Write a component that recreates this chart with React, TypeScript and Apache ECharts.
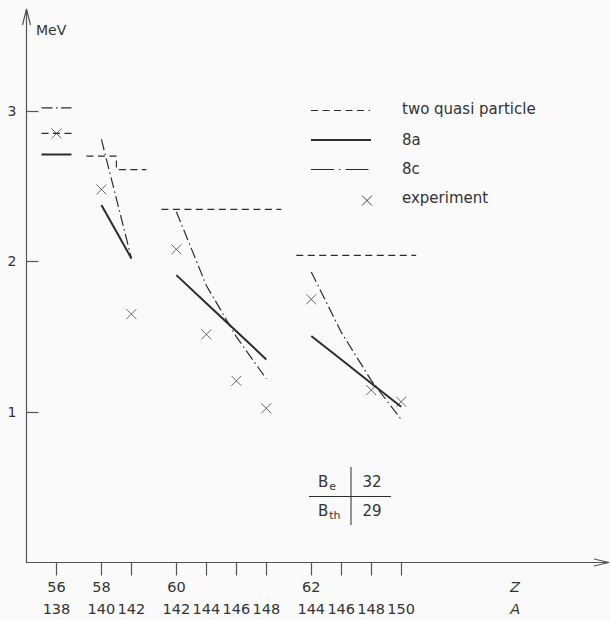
import React, { useEffect, useRef } from "react";
import * as echarts from "echarts";

// ---- data ----
const Z = [56, 58, 58, 60, 60, 60, 60, 62, 62, 62, 62];
const A = [138, 140, 142, 142, 144, 146, 148, 144, 146, 148, 150];
const twoQuasiParticle = [2.85, 2.7, 2.61, 2.345, 2.345, 2.345, 2.345, 2.04, 2.04, 2.04, 2.04];
const calc8a = [2.71, 2.374, 2.02, 1.909, 1.722, 1.536, 1.349, 1.504, 1.348, 1.191, 1.035];
const calc8c = [3.02, 2.81, 2.02, 2.33, 1.84, 1.5, 1.22, 1.93, 1.53, 1.21, 0.95];
const experiment: (number | null)[] = [2.85, 2.478, 1.65, 2.08, 1.515, 1.207, 1.024, 1.748, null, 1.145, 1.068];
const yTicks = [1, 2, 3];
const legendNames = ["two quasi particle", "8a", "8c", "experiment"];
const tableLabels = ["e", "th"];
const tableValues = ["32", "29"];
const yUnit = "MeV";

// ---- layout helpers ----
const INK = "#2c2c2c";
const AXIS = "#555";
const TEXT = "#333";
const FONT = '"DejaVu Sans", sans-serif';
const DASHED = [7, 4.5];
const DASHDOT = [11, 3.5, 1.5, 3.5];
const Z_A_SLOT = 15.3;

// x positions (slots): within an isotope chain one slot per 2 mass units, 1.5 slots between chains
const positions: number[] = [];
Z.forEach((z, i) => {
  if (i === 0) positions.push(0);
  else if (z === Z[i - 1]) positions.push(positions[i - 1] + (A[i] - A[i - 1]) / 2);
  else positions.push(positions[i - 1] + 1.5);
});
const chains: number[][] = [];
Z.forEach((z, i) => {
  if (i === 0 || z !== Z[i - 1]) chains.push([i]);
  else chains[chains.length - 1].push(i);
});

function chainSeries(name: string, values: number[], lineStyle: any, stepwise: boolean) {
  return chains.map((idx) => {
    let data: number[][];
    if (stepwise || idx.length === 1) {
      data = idx.flatMap((i) => [
        [positions[i] - 0.5, values[i]],
        [positions[i] + 0.5, values[i]],
      ]);
    } else {
      data = idx.map((i) => [positions[i], values[i]]);
    }
    return {
      type: "line",
      name,
      data,
      symbol: "none",
      silent: true,
      lineStyle: { color: INK, ...lineStyle },
    };
  });
}

const CROSS = "path://M0,0L10,10M10,0L0,10";

export default function App() {
  const ref = useRef<HTMLDivElement>(null);
  useEffect(() => {
    if (!ref.current) return;
    const chart = echarts.init(ref.current, undefined, { renderer: "svg" });
    const legendY = [108.5, 139.5, 168.5, 197.5];
    const option: any = {
      animation: false,
      backgroundColor: "#fafafa",
      grid: { left: 26.5, right: 2, top: 10, bottom: 57.5, outerBoundsMode: "none", containLabel: false },
      xAxis: {
        type: "value",
        min: -1,
        max: 18.4,
        splitLine: { show: false },
        axisLine: { show: true, onZero: false, lineStyle: { color: AXIS, width: 1.2 } },
        axisTick: { show: true, customValues: positions, length: 13, lineStyle: { color: AXIS, width: 1.2 } },
        axisLabel: {
          customValues: [...positions, Z_A_SLOT],
          margin: 13,
          lineHeight: 22.6,
          fontSize: 14.5,
          fontFamily: FONT,
          color: TEXT,
          formatter: (v: number) => {
            if (Math.abs(v - Z_A_SLOT) < 1e-6) return "{it|Z}\n{it|A}";
            const i = positions.findIndex((p) => Math.abs(p - v) < 1e-6);
            if (i < 0) return "";
            const first = i === 0 || Z[i] !== Z[i - 1];
            return (first ? String(Z[i]) : " ") + "\n" + A[i];
          },
          rich: {
            it: { fontStyle: "italic", fontSize: 14.5, lineHeight: 22.6, fontFamily: FONT, color: TEXT },
          },
        },
      },
      yAxis: {
        type: "value",
        min: 0,
        max: 3.67,
        splitLine: { show: false },
        axisLine: { show: true, onZero: false, lineStyle: { color: AXIS, width: 1.2 } },
        axisTick: { show: true, inside: true, length: 12, customValues: yTicks, lineStyle: { color: AXIS, width: 1.2 } },
        axisLabel: { customValues: yTicks, margin: 10, fontSize: 14, fontFamily: FONT, color: TEXT },
      },
      series: [
        ...chainSeries(legendNames[0], twoQuasiParticle, { type: DASHED, width: 1.2 }, true),
        ...chainSeries(legendNames[1], calc8a, { type: "solid", width: 2 }, false),
        ...chainSeries(legendNames[2], calc8c, { type: DASHDOT, width: 1.2 }, false),
        {
          type: "scatter",
          name: legendNames[3],
          symbol: CROSS,
          symbolSize: 10,
          silent: true,
          itemStyle: { color: "none", borderColor: "#444", borderWidth: 1 },
          data: positions
            .map((p, i) => (experiment[i] == null ? null : [p, experiment[i]]))
            .filter((d) => d !== null),
        },
      ],
      graphic: [
        // axis arrowheads
        { type: "polyline", shape: { points: [[22.5, 25], [26.5, 9], [30.5, 25]] }, style: { stroke: AXIS, lineWidth: 1.2, fill: "none" } },
        { type: "polyline", shape: { points: [[594, 559], [609, 562.5], [594, 566]] }, style: { stroke: AXIS, lineWidth: 1.2, fill: "none" } },
        { type: "text", x: 36, y: 29.5, style: { text: yUnit, font: `14px ${FONT}`, fill: TEXT, verticalAlign: "middle" } },
        // legend
        { type: "line", shape: { x1: 311, y1: legendY[0] + 2, x2: 370, y2: legendY[0] + 2 }, style: { stroke: INK, lineWidth: 1.2, lineDash: DASHED } },
        { type: "line", shape: { x1: 311, y1: legendY[1] + 0.5, x2: 371, y2: legendY[1] + 0.5 }, style: { stroke: INK, lineWidth: 2 } },
        { type: "line", shape: { x1: 311, y1: legendY[2] + 1, x2: 371, y2: legendY[2] + 1 }, style: { stroke: INK, lineWidth: 1.2, lineDash: [23, 5, 1.5, 5] } },
        { type: "line", shape: { x1: 362, y1: legendY[3] - 2, x2: 372, y2: legendY[3] + 8 }, style: { stroke: "#444", lineWidth: 1 } },
        { type: "line", shape: { x1: 372, y1: legendY[3] - 2, x2: 362, y2: legendY[3] + 8 }, style: { stroke: "#444", lineWidth: 1 } },
        ...legendNames.map((n, i) => ({
          type: "text",
          x: 402,
          y: legendY[i],
          style: { text: n, font: `15px ${FONT}`, fill: TEXT, verticalAlign: "middle" },
        })),
        // B table
        { type: "line", shape: { x1: 351, y1: 467, x2: 351, y2: 525 }, style: { stroke: INK, lineWidth: 1 } },
        { type: "line", shape: { x1: 309, y1: 496.5, x2: 391, y2: 496.5 }, style: { stroke: INK, lineWidth: 1 } },
        ...tableLabels.map((s, i) => ({
          type: "text",
          x: 318,
          y: 482 + i * 29,
          style: {
            text: `{b|B}{s|${s}}`,
            fill: TEXT,
            font: `15px ${FONT}`,
            verticalAlign: "middle",
            rich: {
              b: { fontSize: 15, lineHeight: 20, fontFamily: FONT, fill: TEXT },
              s: { fontSize: 11, lineHeight: 11, verticalAlign: "bottom", fontFamily: FONT, fill: TEXT, padding: [0, 0, 0, 1] },
            },
          },
        })),
        ...tableValues.map((s, i) => ({
          type: "text",
          x: 372,
          y: 482 + i * 29,
          style: { text: s, font: `15px ${FONT}`, fill: TEXT, align: "center", verticalAlign: "middle" },
        })),
      ],
    };
    chart.setOption(option);
    return () => chart.dispose();
  }, []);
  return <div ref={ref} style={{ position: "absolute", left: 0, top: 0, width: 610, height: 620 }} />;
}
